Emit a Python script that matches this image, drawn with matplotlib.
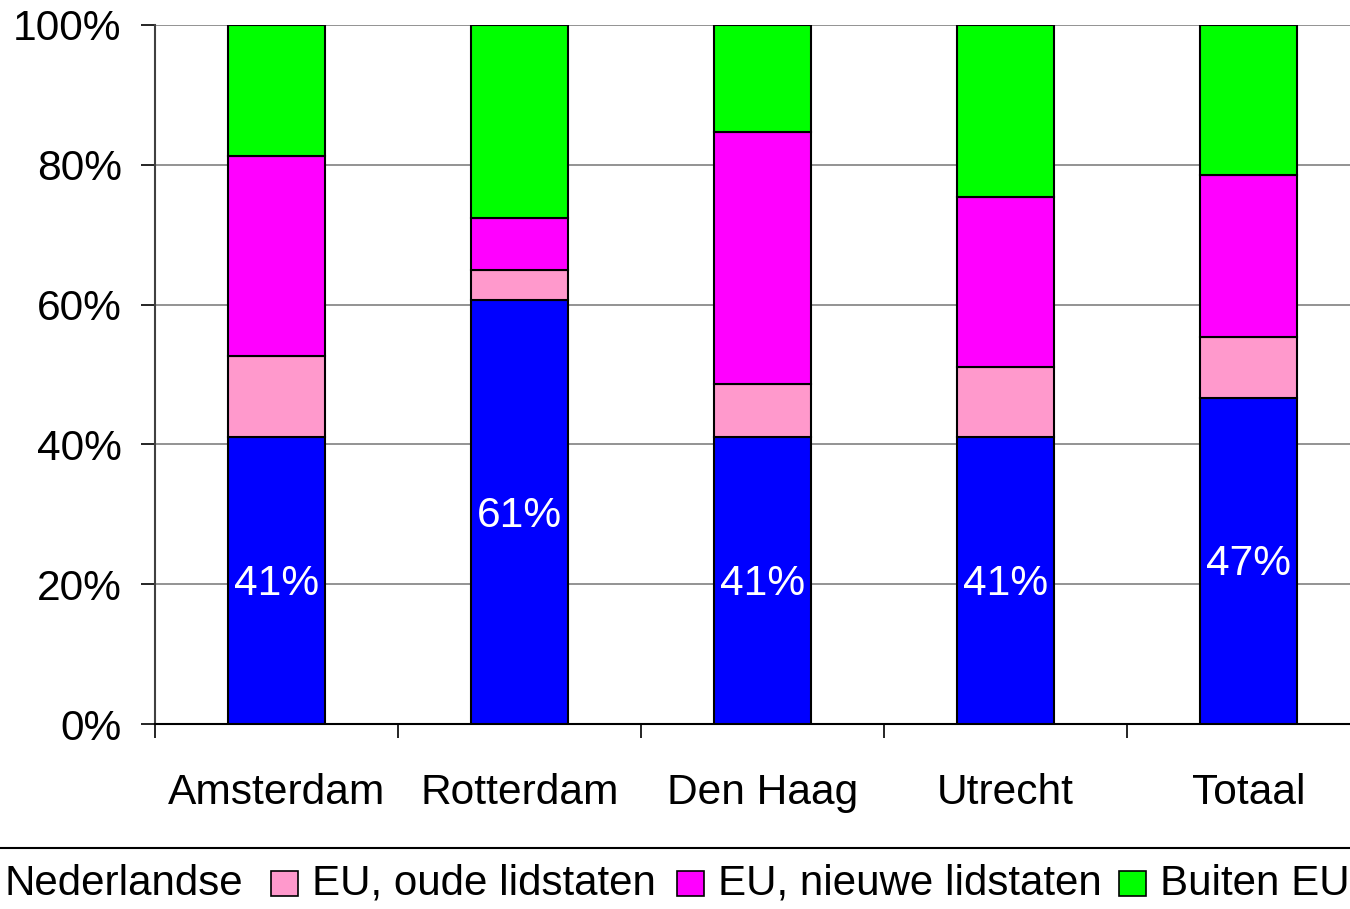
import matplotlib
matplotlib.use("Agg")
import matplotlib.pyplot as plt
import numpy as np
from matplotlib.patches import Rectangle
from matplotlib.lines import Line2D

categories = ["Amsterdam", "Rotterdam", "Den Haag", "Utrecht", "Totaal"]
series_names = ["Nederlandse", "EU, oude lidstaten", "EU, nieuwe lidstaten", "Buiten EU"]
nederlandse = [41.1, 60.6, 41.1, 41.1, 46.7]
eu_oud = [11.5, 4.4, 7.5, 10.0, 8.7]
eu_nieuw = [28.7, 7.4, 36.1, 24.3, 23.1]
buiten_eu = [18.7, 27.6, 15.3, 24.6, 21.5]
labels = ["41%", "61%", "41%", "41%", "47%"]
colors = ["#0000FF", "#FF99CC", "#FF00FF", "#00FF00"]

plt.rcParams['font.family'] = ['Liberation Sans', 'DejaVu Sans']
FS = 30.6

W, H = 1350, 909
fig = plt.figure(figsize=(W / 100, H / 100), dpi=100)
ax = fig.add_axes([155 / W, 1 - 724 / H, 1215 / W, 699 / H])

x = np.arange(len(categories))
data = [nederlandse, eu_oud, eu_nieuw, buiten_eu]
bottom = np.zeros(len(categories))
for vals, col in zip(data, colors):
    ax.bar(x, vals, width=0.4, bottom=bottom, color=col, edgecolor="black",
           linewidth=1.5, zorder=3)
    bottom += np.array(vals)

for xi, v, lab in zip(x, nederlandse, labels):
    ax.text(xi, v / 2 - 0.5, lab, color="white", fontsize=FS, ha="center",
            va="center", zorder=4)

ax.set_xlim(-0.5, 4.5)
ax.set_ylim(0, 100)
ax.set_yticks(np.arange(0, 101, 20))
ax.set_yticklabels([f"{v}%" for v in range(0, 101, 20)], fontsize=FS)
ax.yaxis.grid(True, color="#808080", linewidth=1.2, zorder=0)
ax.set_axisbelow(True)

ax.set_xticks(x)
ax.set_xticklabels(categories, fontsize=FS)
ax.tick_params(axis="x", length=0, pad=35)
ax.set_xticks(np.arange(-0.5, 5.0, 1.0), minor=True)
ax.tick_params(axis="x", which="minor", length=10, width=1.2, direction="out")
ax.tick_params(axis="y", length=10, width=1.2, pad=14, direction="out")

for s in ["top", "right"]:
    ax.spines[s].set_visible(False)
ax.spines["left"].set_color("#404040")
ax.spines["left"].set_linewidth(1.5)
ax.spines["bottom"].set_color("black")
ax.spines["bottom"].set_linewidth(1.5)

# Legend (Excel-style, frame partly outside the image)
def fx(px):
    return px / W

def fy(py):
    return 1 - py / H

fig.add_artist(Line2D([0, 1], [fy(848), fy(848)], color="black", linewidth=1.5,
                      transform=fig.transFigure))
text_x = [4, 312, 718, 1160]
for name, col, tx in zip(series_names, colors, text_x):
    mx = tx - 41
    fig.add_artist(Rectangle((fx(mx), fy(896)), fx(27), 25 / H,
                             facecolor=col, edgecolor="black", linewidth=1.2,
                             transform=fig.transFigure))
    fig.text(fx(tx), fy(895), name, fontsize=30.3, ha="left", va="baseline")

fig.savefig("out.png", dpi=100)
